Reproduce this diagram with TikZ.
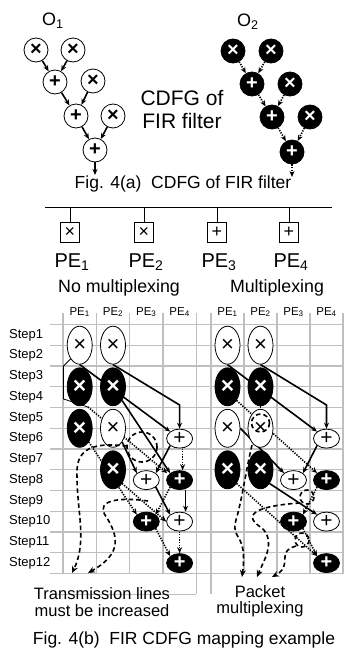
\documentclass[tikz,border=0pt]{standalone}
\usepackage{fontspec}
\setmainfont{Liberation Sans}
\usetikzlibrary{arrows.meta,shapes.geometric,backgrounds}

\newcommand{\fs}[1]{\fontsize{#1}{#1}\selectfont}

\tikzset{
  tw/.style={circle,draw,line width=0.8pt,minimum size=24pt,inner sep=0pt,font=\fs{20}\bfseries},
  tb/.style={tw,fill=black,text=white},
  ew/.style={ellipse,draw,fill=white,line width=0.8pt,minimum width=25pt,minimum height=38pt,inner sep=0pt,font=\fs{22}},
  eb/.style={ew,fill=black,text=white,font=\fs{23}\bfseries},
  pw/.style={ew,minimum height=19pt,minimum width=26pt,font=\fs{21}},
  pb/.style={eb,minimum height=19pt,minimum width=26pt,font=\fs{20}\bfseries},
  pebox/.style={rectangle,draw,line width=0.8pt,minimum width=19pt,minimum height=20pt,inner sep=0pt,font=\fs{18}},
  grid line/.style={draw=black!25,line width=1.1pt},
  thinl/.style={line width=0.8pt},
  sol/.style={line width=1.6pt,-{Stealth[length=6pt,width=5pt]}},
  dot/.style={line width=1.6pt,dash pattern=on 1.3pt off 1.3pt,-{Stealth[length=6pt,width=5pt]}},
  dsh/.style={line width=1.6pt,dash pattern=on 4.5pt off 3pt,-{Stealth[length=7pt,width=6pt]}},
}

\begin{document}
\begin{tikzpicture}[x=1pt,y=-1pt]
\useasboundingbox (0,0) rectangle (344,653);

% --- Fig. 4(a): CDFG of the two FIR outputs
\node[font=\fs{18}] (t1) at (53,21) {O\textsubscript{1}};
\node[font=\fs{18}] (t2) at (248,22) {O\textsubscript{2}};

\node[tw] (lm1) at (36,50) {×};
\node[tw] (lm2) at (73,50) {×};
\node[tw] (la1) at (55,82) {+};
\node[tw] (lm3) at (93,81) {×};
\node[tw] (la2) at (76,116) {+};
\node[tw] (lm4) at (113,116) {×};
\node[tw] (la3) at (95,150) {+};
\coordinate (lout) at (95,175);

\node[tb] (rm1) at (233,51) {×};
\node[tb] (rm2) at (271,51) {×};
\node[tb] (ra1) at (252,84) {+};
\node[tb] (rm3) at (290,84) {×};
\node[tb] (ra2) at (272,117) {+};
\node[tb] (rm4) at (310,117) {×};
\node[tb] (ra3) at (292,152) {+};
\coordinate (rout) at (292,177);

\draw[sol] (lm1) -- (la1);
\draw[sol] (lm2) -- (la1);
\draw[sol] (la1) -- (la2);
\draw[sol] (lm3) -- (la2);
\draw[sol] (la2) -- (la3);
\draw[sol] (lm4) -- (la3);
\draw[sol] (la3) -- (lout);

\draw[dot] (rm1) -- (ra1);
\draw[dot] (rm2) -- (ra1);
\draw[dot] (ra1) -- (ra2);
\draw[dot] (rm3) -- (ra2);
\draw[dot] (ra2) -- (ra3);
\draw[dot] (rm4) -- (ra3);
\draw[dot] (ra3) -- (rout);

\node[font=\fs{21},align=center] (cdfg) at (182,110) {CDFG of\\[2pt]FIR filter};
\node[font=\fs{17.5}] (capa) at (183,184) {Fig. 4(a)\ \ CDFG of FIR filter};

% --- PEs on the bus
\draw[line width=1pt] (45,207) -- (332,207);
\foreach \x/\op/\i in {70/×/1,144/×/2,217/+/3,289/+/4} {
  \node[pebox] (pe\i) at (\x,232) {\op};
  \draw[line width=0.8pt] (pe\i.north) -- (\x,207);
  \node[font=\fs{20}] (pel\i) at (\x+2,262) {PE\textsubscript{\i}};
}

\node[font=\fs{17.8}] (nomux) at (119,288) {No multiplexing};
\node[font=\fs{17.8}] (mux) at (277,288) {Multiplexing};

\foreach \s in {1,...,12}
  \node[font=\fs{13},anchor=west,inner sep=0pt] (st\s) at (9,324.5+20.75*\s-10.4) {Step\s};

\foreach \i/\x in {1/79.7,2/113,3/146.3,4/179.6}
  \node[font=\fs{11.5}] (nh\i) at (\x,312) {PE\textsubscript{\i}};
\foreach \i/\x in {1/227.5,2/260.5,3/293.5,4/326.5}
  \node[font=\fs{11.5}] (mh\i) at (\x,312) {PE\textsubscript{\i}};

% --- no multiplexing
\node[ew] (nx1) at (79.7,345.2) {×};
\node[ew] (nx2) at (113,345.2) {×};
\node[eb] (nx3) at (79.7,386.8) {×};
\node[eb] (nx4) at (113,386.8) {×};
\node[eb] (nx5) at (79.7,428.3) {×};
\node[ew] (nx6) at (113,428.3) {×};
\node[eb] (nx7) at (113,469.8) {×};
\node[pw] (np1) at (179.6,438.6) {+};
\node[pw] (np2) at (146.3,480.1) {+};
\node[pb] (np3) at (179.6,480.1) {+};
\node[pb] (np4) at (146.3,521.6) {+};
\node[pw] (np5) at (179.6,521.6) {+};
\node[pb] (np6) at (179.6,563.1) {+};
\coordinate (nk1) at (179.6,405);

% --- multiplexing
\node[ew] (mx1) at (227.5,345.2) {×};
\node[ew] (mx2) at (260.5,345.2) {×};
\node[eb] (mx3) at (227.5,386.8) {×};
\node[eb] (mx4) at (260.5,386.8) {×};
\node[ew] (mx5) at (227.5,428.3) {×};
\node[ew] (mx6) at (260.5,428.3) {×};
\node[eb] (mx7) at (227.5,469.8) {×};
\node[eb] (mx8) at (260.5,469.8) {×};
\node[pw] (mp1) at (326.5,438.6) {+};
\node[pw] (mp2) at (293.5,480.1) {+};
\node[pb] (mp3) at (326.5,480.1) {+};
\node[pb] (mp4) at (293.5,521.6) {+};
\node[pw] (mp5) at (326.5,521.6) {+};
\node[pb] (mp6) at (326.5,563.1) {+};
\coordinate (mk1) at (326.5,405);
\coordinate (mj1) at (260.5,423);

\begin{pgfonlayer}{background}
% step grid
\foreach \k in {0,...,12}
  \draw[grid line] (50,324.5+20.75*\k) -- (344,324.5+20.75*\k);
\draw[grid line] (50,594.25) -- (196.3,594.25);
\foreach \x in {63,96.3,129.6,163,244,277,310,343}
  \draw[grid line] (\x,313) -- (\x,573.5);
\foreach \x in {196.3,211}
  \draw[grid line] (\x,313) -- (\x,594.25);

% no multiplexing: one line per transfer
\draw[sol] (nx1.south) -- (np1.north west);
\draw[sol] (nx2.south) -- (nk1) -- (np1.north);
\draw[thinl] (nx1.south west) -- (63.5,366) -- (63.5,399) -- (88,407);
\draw[dot] (88,407) -- ([xshift=-3pt]np3.north west);
\draw[sol] (nx4.south east) -- (np3.north west);
\draw[sol] (nx6.south east) -- (np2.north west);
\draw[sol] (np1.south west) -- (np2.north east);
\draw[dot] ([xshift=3pt]np1.south) -- ([xshift=3pt]np3.north);
\draw[sol] ([xshift=6pt]np3.south) -- ([xshift=6pt]np5.north);
\draw[dot] (nx5.south east) -- (np4.north west);
\draw[dot] (np3.south west) -- (np4.north east);
\draw[sol] (np2.south east) -- (np5.north west);
\draw[dot] (nx7.south east) -- (np5.west);
\draw[dot] (np4.south east) -- (np6.north west);
\draw[dot] (np5.south) -- (np6.north);

% multiplexing: transfers share a line
\draw[sol] (mx1.south) -- (mp1.north west);
\draw[sol] (mx2.south) -- (mk1) -- (mp1.north);
\draw[dot] (mx3.south east) -- (mp3.north west);
\draw[dot] (mx4.south) -- (mj1);
\draw[sol] (mx5.east) -- (mp2.north west);
\draw[sol] (mp1.south west) -- (mp2.north east);
\draw[dot] (mp3.south west) -- (mp4.north east);
\draw[sol] (mx8.south east) -- (mp5.north west);
\draw[dot] (mx7.south east) -- (mp6.north west);
\draw[dot] (mp4.south east) -- (mp6.north west);
\end{pgfonlayer}

% bundles of lines and where they go
\draw[dsh,-] (142,447) ellipse [x radius=15,y radius=15];
\draw[dsh] (127,446) .. controls (100,443) and (78,445) .. (77,470) .. controls (76,510) and (88,540) .. (72,573);
\draw[dsh] (148,501) .. controls (120,497) and (96,500) .. (105,515) .. controls (122,540) and (118,556) .. (88,573);
\node[font=\fs{16.5},align=center] (trl) at (102,602) {Transmission lines\\must be increased};

\draw[dsh,-] (mj1) circle (9);
\draw[dsh,-] (307,497) circle (7);
\draw[dsh,-] (302,540) circle (7);
\draw[dsh] (252,445) .. controls (246,470) and (242,500) .. (236,520) .. controls (230,540) and (248,532) .. (242,577);
\draw[dsh] (300,503) .. controls (268,505) and (236,512) .. (262,528) .. controls (276,542) and (264,560) .. (257,577);
\draw[dsh] (296,546) .. controls (275,552) and (294,565) .. (272,577);
\node[font=\fs{16.5},align=center] (pkm) at (260,601) {Packet\\multiplexing};

\node[font=\fs{17.5}] (capb) at (184,640) {Fig. 4(b)\ \ FIR CDFG mapping example};
\end{tikzpicture}
\end{document}
